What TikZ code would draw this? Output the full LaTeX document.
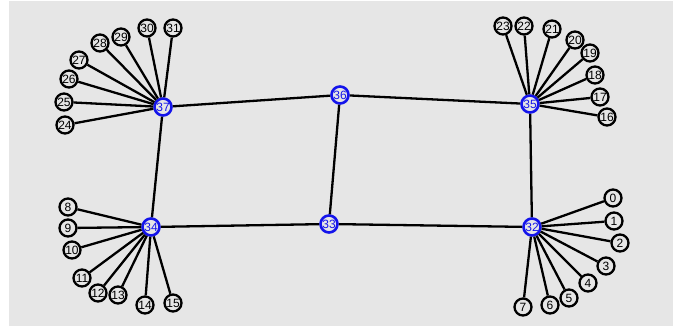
\documentclass[tikz,border=0pt]{standalone}
\usepackage{fontspec}
\setmainfont{Liberation Sans}
\usepackage{tikz}
\usetikzlibrary{positioning}

\definecolor{panelgray}{RGB}{230,230,230}
\definecolor{hubblue}{RGB}{20,20,235}

\tikzset{
  leaf/.style={circle,draw=black,line width=2.3pt,fill=panelgray,minimum size=17pt,inner sep=0pt,font=\fontsize{12}{12}\selectfont},
  hub/.style={circle,draw=hubblue,line width=2.6pt,fill=panelgray,text=hubblue,minimum size=17pt,inner sep=0pt,font=\fontsize{12}{12}\selectfont},
  link/.style={line width=2.3pt,black}
}

\begin{document}
\begin{tikzpicture}[x=1pt,y=-1pt]
\useasboundingbox (0,0) rectangle (679,326);
\fill[panelgray] (9,1) rectangle (673,326);

\node[hub] (n37) at (163,107) {37};
\node[hub] (n36) at (340,95) {36};
\node[hub] (n35) at (530,104) {35};
\node[hub] (n34) at (151,227) {34};
\node[hub] (n33) at (329,224) {33};
\node[hub] (n32) at (532,227) {32};

\node[leaf] (n0) at (613,198) {0};
\node[leaf] (n1) at (614,221) {1};
\node[leaf] (n2) at (620,243) {2};
\node[leaf] (n3) at (606,266) {3};
\node[leaf] (n4) at (588,283) {4};
\node[leaf] (n5) at (569,298) {5};
\node[leaf] (n6) at (550,305) {6};
\node[leaf] (n7) at (523,307) {7};

\node[leaf] (n8) at (68,207) {8};
\node[leaf] (n9) at (68,228) {9};
\node[leaf] (n10) at (72,250) {10};
\node[leaf] (n11) at (82,278) {11};
\node[leaf] (n12) at (98,293) {12};
\node[leaf] (n13) at (118,295) {13};
\node[leaf] (n14) at (145,305) {14};
\node[leaf] (n15) at (173,303) {15};

\node[leaf] (n16) at (607,117) {16};
\node[leaf] (n17) at (600,97) {17};
\node[leaf] (n18) at (595,75) {18};
\node[leaf] (n19) at (590,53) {19};
\node[leaf] (n20) at (575,40) {20};
\node[leaf] (n21) at (552,29) {21};
\node[leaf] (n22) at (524,26) {22};
\node[leaf] (n23) at (503,26) {23};

\node[leaf] (n24) at (65,125) {24};
\node[leaf] (n25) at (64,102) {25};
\node[leaf] (n26) at (69,79) {26};
\node[leaf] (n27) at (79,60) {27};
\node[leaf] (n28) at (100,43) {28};
\node[leaf] (n29) at (121,37) {29};
\node[leaf] (n30) at (147,28) {30};
\node[leaf] (n31) at (173,28) {31};

\draw[link] (n37) -- (n36);
\draw[link] (n36) -- (n35);
\draw[link] (n37) -- (n34);
\draw[link] (n36) -- (n33);
\draw[link] (n35) -- (n32);
\draw[link] (n34) -- (n33);
\draw[link] (n33) -- (n32);

\foreach \i in {0,...,7} \draw[link] (n32) -- (n\i);
\foreach \i in {8,...,15} \draw[link] (n34) -- (n\i);
\foreach \i in {16,...,23} \draw[link] (n35) -- (n\i);
\foreach \i in {24,...,31} \draw[link] (n37) -- (n\i);
\end{tikzpicture}
\end{document}
